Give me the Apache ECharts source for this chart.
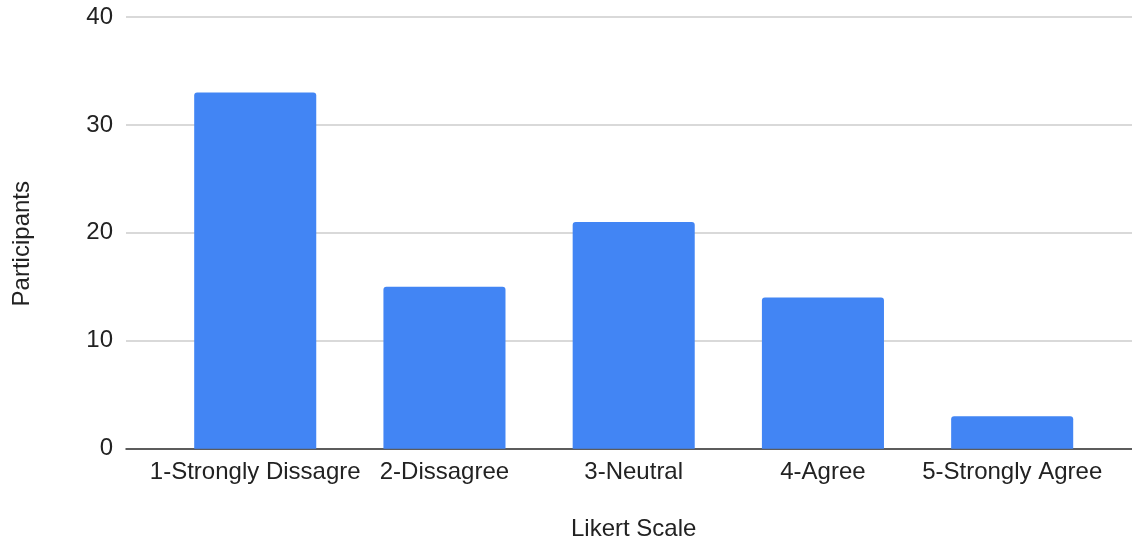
<!DOCTYPE html>
<html>
<head>
<meta charset="utf-8">
<script src="https://cdn.jsdelivr.net/npm/echarts@6/dist/echarts.min.js"></script>
<style>html,body{margin:0;padding:0;background:#fff}#c{width:1132px;height:550px}</style>
</head>
<body>
<div id="c"></div>
<script>
const categories = ['1-Strongly Dissagre', '2-Dissagree', '3-Neutral', '4-Agree', '5-Strongly Agree'];
const participants = [33, 15, 21, 14, 3];
const yTicks = [0, 10, 20, 30, 40];
const xTitle = 'Likert Scale';
const yTitle = 'Participants';

const font = '"Liberation Sans", Arial, sans-serif';
const chart = echarts.init(document.getElementById('c'), null, {renderer: 'canvas'});
chart.setOption({
  animation: false,
  backgroundColor: '#ffffff',
  grid: [
    {left: 160.6, right: 25.2, top: 17, bottom: 101.3},
    {left: 126, right: 0, top: 17, bottom: 101.3}
  ],
  xAxis: [
    {
      type: 'category', gridIndex: 0, data: categories,
      axisLine: {show: false}, axisTick: {show: false},
      axisLabel: {color: '#222', fontFamily: font, fontSize: 24, margin: 12, interval: 0},
      name: xTitle, nameLocation: 'middle', nameGap: 69,
      nameTextStyle: {color: '#222', fontFamily: font, fontSize: 24}
    },
    {
      type: 'value', gridIndex: 1, min: 0, max: 1,
      axisLabel: {show: false}, axisTick: {show: false}, splitLine: {show: false},
      axisLine: {show: true, lineStyle: {color: '#333', width: 1.5}}
    }
  ],
  yAxis: [
    {
      type: 'value', gridIndex: 0, min: 0, max: 40, interval: 10,
      axisLabel: {show: false}, axisLine: {show: false}, axisTick: {show: false}, splitLine: {show: false}
    },
    {
      type: 'value', gridIndex: 1, min: yTicks[0], max: yTicks[yTicks.length - 1], interval: 10,
      axisLine: {show: false}, axisTick: {show: false},
      axisLabel: {color: '#222', fontFamily: font, fontSize: 24, margin: 13},
      splitLine: {show: true, lineStyle: {color: '#cccccc', width: 1.5}}
    }
  ],
  graphic: [{
    type: 'text', left: 10, top: 181, rotation: Math.PI / 2, z: 10,
    style: {text: yTitle, fill: '#222', font: '24px ' + font}
  }],
  series: [{
    type: 'bar', xAxisIndex: 0, yAxisIndex: 0, z: 5,
    data: participants, barWidth: '64.5%',
    itemStyle: {color: '#4285F4', borderRadius: [3, 3, 0, 0]}
  }]
});
</script>
</body>
</html>
